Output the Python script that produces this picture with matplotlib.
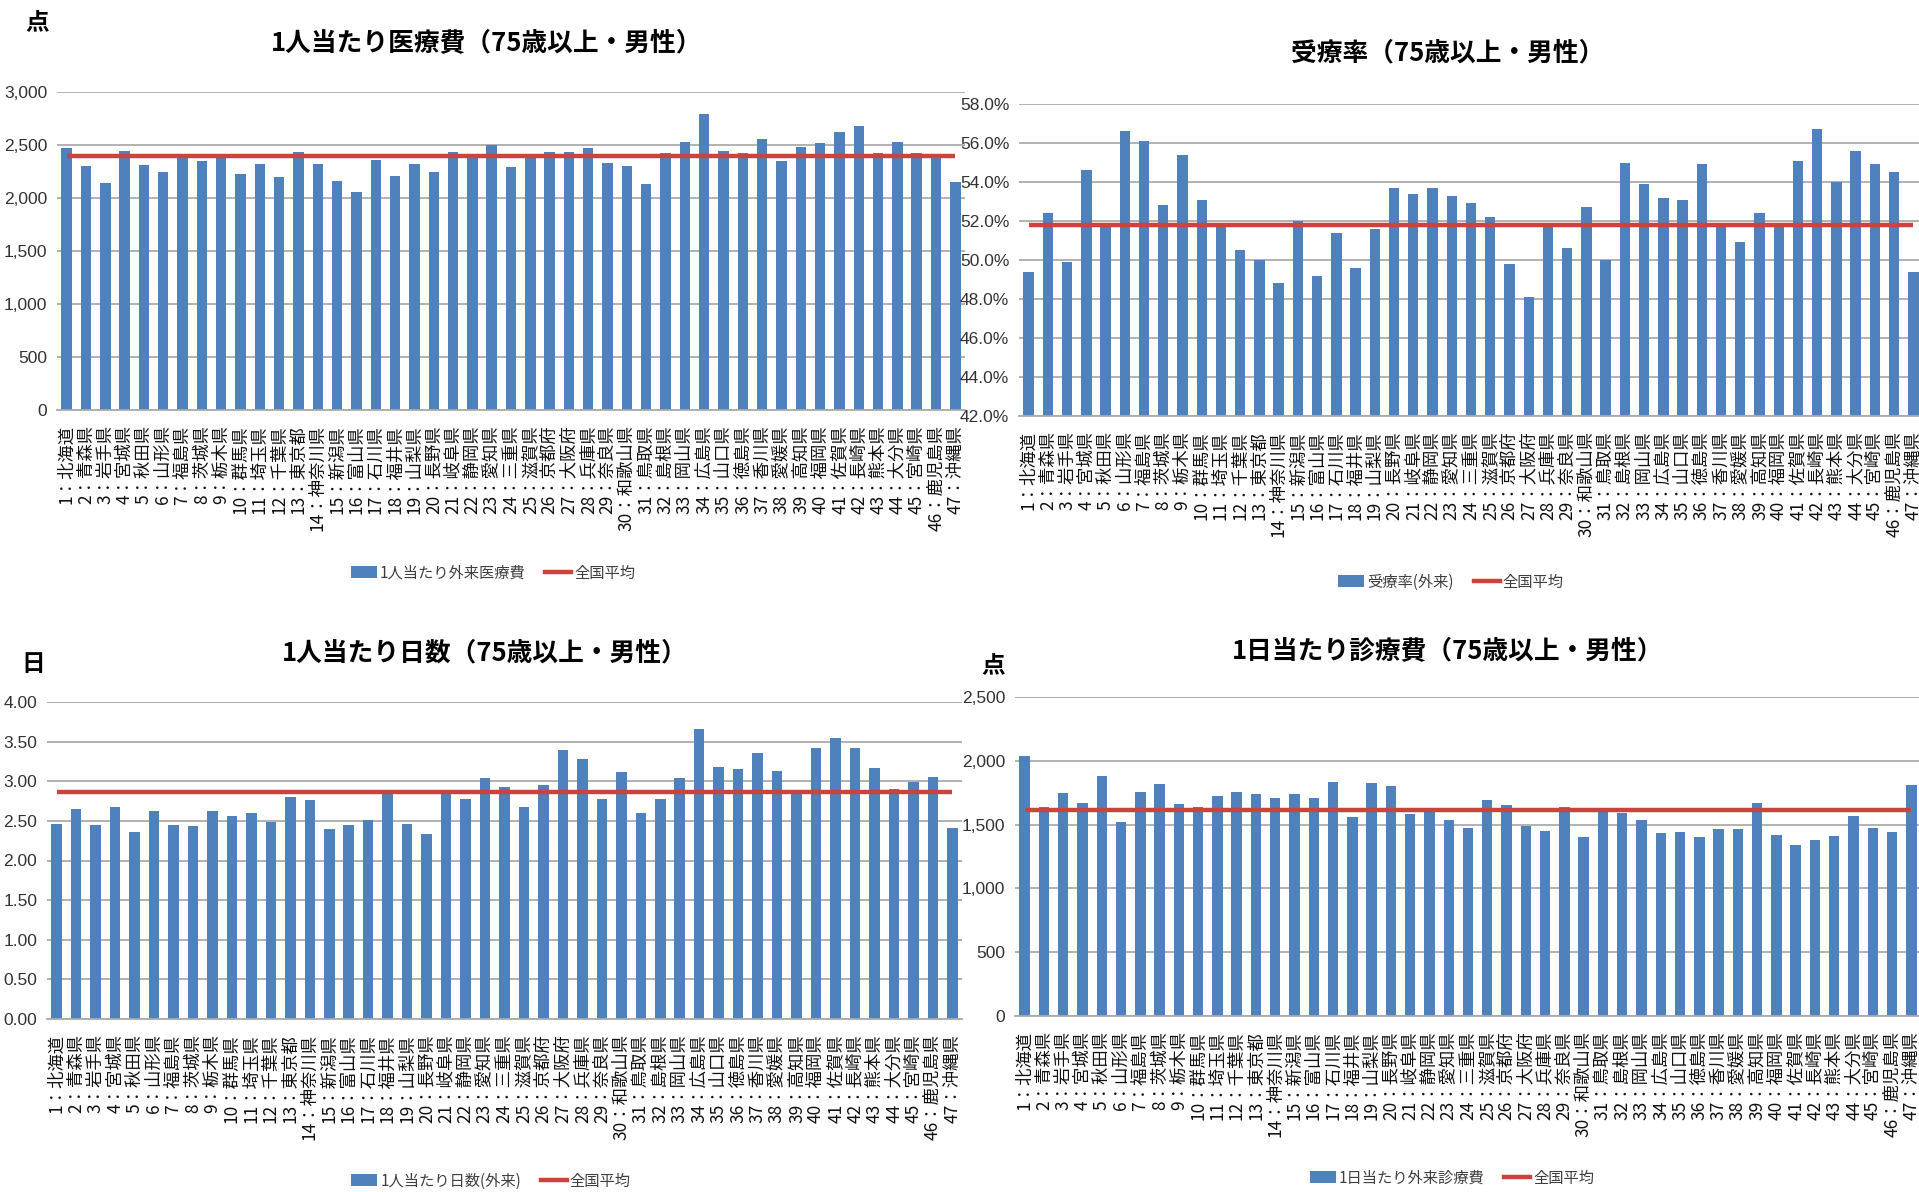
import numpy as np
import matplotlib
matplotlib.use('Agg')
import matplotlib.pyplot as plt
from matplotlib.patches import Patch
from matplotlib.lines import Line2D
from matplotlib.ticker import FuncFormatter, MultipleLocator

plt.rcParams['font.family'] = ['Noto Sans CJK JP', 'DejaVu Sans']

prefs = ['北海道', '青森県', '岩手県', '宮城県', '秋田県', '山形県', '福島県', '茨城県',
         '栃木県', '群馬県', '埼玉県', '千葉県', '東京都', '神奈川県', '新潟県', '富山県',
         '石川県', '福井県', '山梨県', '長野県', '岐阜県', '静岡県', '愛知県', '三重県',
         '滋賀県', '京都府', '大阪府', '兵庫県', '奈良県', '和歌山県', '鳥取県', '島根県',
         '岡山県', '広島県', '山口県', '徳島県', '香川県', '愛媛県', '高知県', '福岡県',
         '佐賀県', '長崎県', '熊本県', '大分県', '宮崎県', '鹿児島県', '沖縄県']
labels = [f'{i + 1}：{p}' for i, p in enumerate(prefs)]

# 1人当たり外来医療費 (点)
cost_per_person = [2470, 2300, 2140, 2440, 2310, 2250, 2400, 2345, 2400, 2230,
                   2320, 2200, 2430, 2320, 2160, 2060, 2360, 2210, 2320, 2250,
                   2430, 2400, 2500, 2290, 2390, 2430, 2430, 2470, 2330, 2300,
                   2130, 2420, 2525, 2795, 2440, 2420, 2555, 2345, 2480, 2515,
                   2620, 2680, 2420, 2525, 2420, 2400, 2150]
cost_avg = 2400

# 受療率(外来) (%)
rate = [49.4, 52.4, 49.9, 54.6, 51.8, 56.6, 56.1, 52.8, 55.4, 53.1,
        51.8, 50.5, 50.0, 48.8, 52.0, 49.2, 51.4, 49.6, 51.6, 53.7,
        53.4, 53.7, 53.3, 52.9, 52.2, 49.8, 48.1, 51.8, 50.6, 52.7,
        50.0, 55.0, 53.9, 53.2, 53.1, 54.9, 51.8, 50.9, 52.4, 51.8,
        55.1, 56.7, 54.0, 55.6, 54.9, 54.5, 49.4]
rate_avg = 51.8

# 1人当たり日数(外来) (日)
days = [2.46, 2.65, 2.45, 2.67, 2.36, 2.62, 2.45, 2.44, 2.62, 2.56,
        2.60, 2.49, 2.80, 2.76, 2.40, 2.45, 2.51, 2.86, 2.46, 2.33,
        2.86, 2.77, 3.04, 2.93, 2.68, 2.95, 3.40, 3.28, 2.78, 3.12,
        2.60, 2.78, 3.04, 3.66, 3.18, 3.15, 3.36, 3.13, 2.86, 3.42,
        3.55, 3.42, 3.17, 2.90, 2.99, 3.05, 2.41]
days_avg = 2.86

# 1日当たり外来診療費 (点)
cost_per_day = [2040, 1641, 1745, 1667, 1881, 1523, 1753, 1816, 1659, 1641,
                1721, 1753, 1737, 1711, 1737, 1711, 1834, 1562, 1826, 1802,
                1580, 1612, 1539, 1476, 1690, 1651, 1489, 1452, 1641, 1403,
                1612, 1588, 1539, 1437, 1445, 1403, 1468, 1468, 1667, 1418,
                1340, 1379, 1411, 1570, 1476, 1445, 1810]
cost_day_avg = 1614

W, H = 1919, 1192
BLUE = '#4F81BD'
RED = '#C8443C'
GRID = '#ABABAB'
NUM_FONT = ['Liberation Sans Narrow', 'Liberation Sans', 'DejaVu Sans']

fig = plt.figure(figsize=(W / 100, H / 100), dpi=100)


def px_axes(left, top, right, bottom):
    return fig.add_axes([left / W, 1 - bottom / H, (right - left) / W, (bottom - top) / H])


def draw_panel(rect, values, avg, ylim, step, fmt, title, title_xy, unit, unit_xy,
               bar_label, legend_xy):
    ax = px_axes(*rect)
    x = np.arange(len(values))
    ax.bar(x, values, width=0.54, color=BLUE, zorder=2)
    ax.plot(x, [avg] * len(x), color=RED, lw=3.2, zorder=3, solid_capstyle='butt')
    ax.set_xlim(-0.5, len(values) - 0.5)
    ax.set_ylim(*ylim)
    ax.yaxis.set_major_locator(MultipleLocator(step))
    ax.yaxis.set_major_formatter(FuncFormatter(fmt))
    ax.grid(axis='y', color=GRID, lw=1.3, zorder=0)
    ax.set_axisbelow(True)
    for s in ['top', 'right', 'left']:
        ax.spines[s].set_visible(False)
    ax.spines['bottom'].set_color(GRID)
    ax.spines['bottom'].set_linewidth(1.3)
    ax.set_xticks(x)
    ax.set_xticklabels(labels, rotation=90, fontsize=12.5, va='top', ha='center')
    ax.tick_params(axis='x', length=0, pad=11)
    ax.tick_params(axis='y', length=0, pad=7, labelsize=12.5, colors='#333333')
    for t in ax.get_yticklabels():
        t.set_family(NUM_FONT)
    for t in ax.get_xticklabels():
        t.set_color('#111111')
    fig.text(title_xy[0] / W, 1 - title_xy[1] / H, title, fontsize=18.5, fontweight='bold',
             ha='center', va='center')
    if unit:
        fig.text(unit_xy[0] / W, 1 - unit_xy[1] / H, unit, fontsize=17, fontweight='bold',
                 ha='center', va='center')
    handles = [Patch(facecolor=BLUE, edgecolor='none', label=bar_label),
               Line2D([], [], color=RED, lw=3.2, label='全国平均')]
    fig.legend(handles=handles, loc='center', ncol=2, frameon=False, fontsize=11,
               bbox_to_anchor=(legend_xy[0] / W, 1 - legend_xy[1] / H),
               handlelength=1.7, handleheight=0.85, handletextpad=0.2, columnspacing=1.3,
               labelcolor='#404040')
    return ax


draw_panel((57, 92, 965, 410), cost_per_person, cost_avg, (0, 3000), 500,
           lambda v, p: f'{v:,.0f}', '1人当たり医療費（75歳以上・男性）', (487, 43),
           '点', (37, 23), '1人当たり外来医療費', (493, 573))

draw_panel((1019, 104, 1923, 416), rate, rate_avg, (42, 58), 2,
           lambda v, p: f'{v:.1f}%', '受療率（75歳以上・男性）', (1448, 53),
           None, None, '受療率(外来)', (1451, 582))

draw_panel((47, 702, 962, 1019), days, days_avg, (0, 4), 0.5,
           lambda v, p: f'{v:.2f}', '1人当たり日数（75歳以上・男性）', (485, 653),
           '日', (33, 664), '1人当たり日数(外来)', (491, 1181))

draw_panel((1015, 697, 1921, 1016), cost_per_day, cost_day_avg, (0, 2500), 500,
           lambda v, p: f'{v:,.0f}', '1日当たり診療費（75歳以上・男性）', (1448, 651),
           '点', (993, 666), '1日当たり外来診療費', (1452, 1178))

fig.savefig('out.png', dpi=100)
